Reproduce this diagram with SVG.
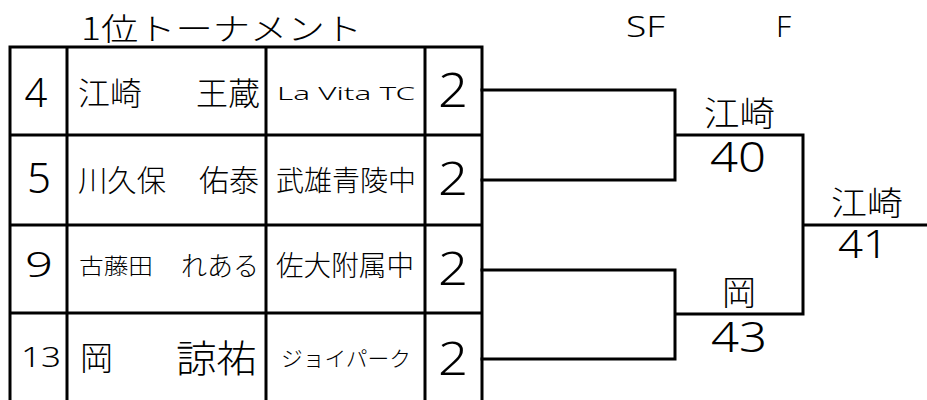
<svg xmlns="http://www.w3.org/2000/svg" width="927" height="400" viewBox="0 0 927 400">
<style>
text{font-family:"Noto Sans","Noto Sans CJK JP",sans-serif;font-weight:300;fill:#000}
.j{font-family:"Noto Sans CJK JP","Noto Sans",sans-serif}
.ln{stroke:#000;stroke-width:3;fill:none;stroke-linecap:square}
</style>
<rect width="927" height="400" fill="#fff"/>
<g id="title">
<text class="j" x="81" y="40" font-size="31" textLength="281" lengthAdjust="spacingAndGlyphs">1位トーナメント</text>
<text x="626" y="37" font-size="30" textLength="39" lengthAdjust="spacingAndGlyphs">SF</text>
<text x="776" y="37" font-size="30">F</text>
</g>
<g id="table">
<path class="ln" d="M10 47H482M10 135H482M10 225H482M10 313H482M10 47V402M67 47V402M266 47V402M425 47V402M482 47V402"/>
</g>
<g id="p1">
<text x="36" y="107" font-size="40" text-anchor="middle">4</text>
<text class="j" x="78" y="105" font-size="32">江崎</text>
<text class="j" x="260" y="105" font-size="32" text-anchor="end">王蔵</text>
<text x="277" y="100" font-size="18" textLength="138" lengthAdjust="spacingAndGlyphs">La Vita TC</text>
<text x="438" y="107" font-size="48" textLength="30" lengthAdjust="spacingAndGlyphs">2</text>
</g>
<g id="p2">
<text x="39" y="193" font-size="42" text-anchor="middle">5</text>
<text class="j" x="78" y="191" font-size="30" textLength="88" lengthAdjust="spacingAndGlyphs">川久保</text>
<text class="j" x="259" y="191" font-size="30" text-anchor="end">佑泰</text>
<text class="j" x="276" y="191" font-size="28" textLength="140" lengthAdjust="spacingAndGlyphs">武雄青陵中</text>
<text x="438" y="195" font-size="46" textLength="30" lengthAdjust="spacingAndGlyphs">2</text>
</g>
<g id="p3">
<text x="25" y="277" font-size="34" textLength="28" lengthAdjust="spacingAndGlyphs">9</text>
<text class="j" x="79" y="274" font-size="22" textLength="74" lengthAdjust="spacingAndGlyphs">古藤田</text>
<text class="j" x="181" y="276" font-size="27" textLength="78" lengthAdjust="spacingAndGlyphs">れある</text>
<text class="j" x="276" y="276" font-size="28" textLength="138" lengthAdjust="spacingAndGlyphs">佐大附属中</text>
<text x="438" y="285" font-size="46" textLength="30" lengthAdjust="spacingAndGlyphs">2</text>
</g>
<g id="p4">
<text x="21" y="367" font-size="28" textLength="40" lengthAdjust="spacingAndGlyphs">13</text>
<text class="j" x="80" y="370" font-size="33">岡</text>
<text class="j" x="176" y="372" font-size="38" textLength="81" lengthAdjust="spacingAndGlyphs">諒祐</text>
<text class="j" x="281" y="366" font-size="21" textLength="130" lengthAdjust="spacingAndGlyphs">ジョイパーク</text>
<text x="438" y="375" font-size="46" textLength="30" lengthAdjust="spacingAndGlyphs">2</text>
</g>
<g id="connectors">
<path class="ln" d="M482 90H675V180H482M482 270H675V359H482M675 135H803V314H675M803 225H927"/>
</g>
<g id="sf1">
<text class="j" x="704" y="126" font-size="34" textLength="71" lengthAdjust="spacingAndGlyphs">江崎</text>
<text x="710" y="172" font-size="42" textLength="56" lengthAdjust="spacingAndGlyphs">40</text>
</g>
<g id="sf2">
<text class="j" x="722" y="305" font-size="34">岡</text>
<text x="711" y="352" font-size="42" textLength="56" lengthAdjust="spacingAndGlyphs">43</text>
</g>
<g id="final">
<text class="j" x="831" y="215" font-size="33" textLength="72" lengthAdjust="spacingAndGlyphs">江崎</text>
<text x="838" y="258" font-size="39" textLength="50" lengthAdjust="spacingAndGlyphs">41</text>
</g>
</svg>
